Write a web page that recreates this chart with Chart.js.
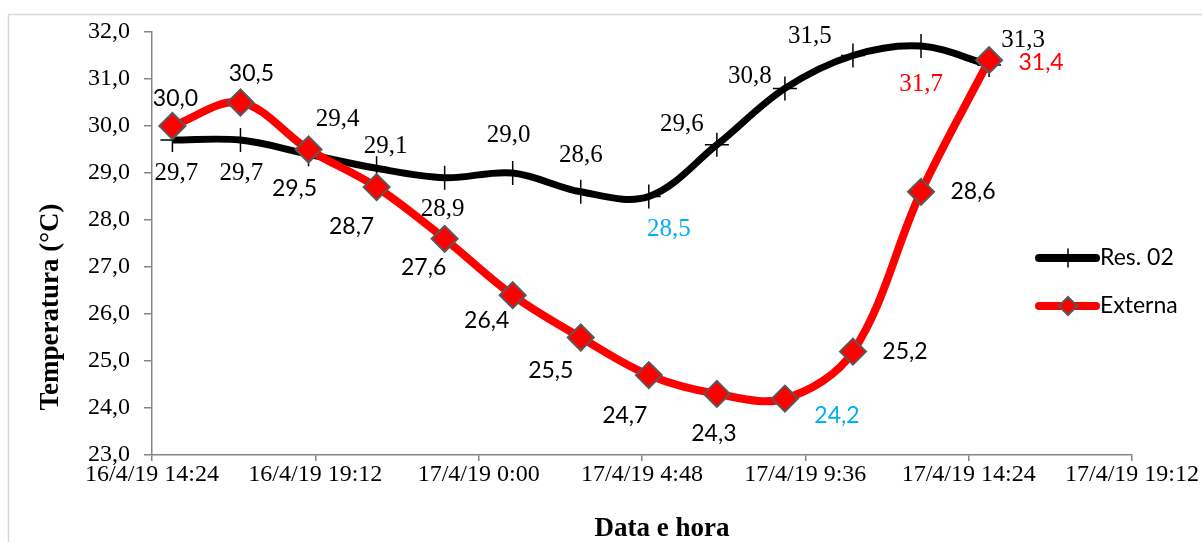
<!DOCTYPE html>
<html lang="pt-BR">
<head>
<meta charset="utf-8">
<title>Temperatura - Res. 02 x Externa</title>
<script src="https://cdn.jsdelivr.net/npm/chart.js@4.4.1/dist/chart.umd.min.js"></script>
<style>
  html, body { margin: 0; padding: 0; background: #fff; }
  #grafico { display: block; }
</style>
</head>
<body>
<canvas id="grafico" width="1202" height="542"></canvas>
<script>
// horas contadas a partir de 16/4/19 00:00 (uma leitura a cada 2 h)
const horas = [15, 17, 19, 21, 23, 25, 27, 29, 31, 33, 35, 37, 39];
const res02 = [29.7, 29.7, 29.4, 29.1, 28.9, 29.0, 28.6, 28.5, 29.6, 30.8, 31.5, 31.7, 31.3];
const externa = [30.0, 30.5, 29.5, 28.7, 27.6, 26.4, 25.5, 24.7, 24.3, 24.2, 25.2, 28.6, 31.4];
const xTickLabels = ['16/4/19 14:24', '16/4/19 19:12', '17/4/19 0:00', '17/4/19 4:48',
                     '17/4/19 9:36', '17/4/19 14:24', '17/4/19 19:12'];
const xMin = 14.4, xStep = 4.8;
const yMin = 23, yMax = 32, yStep = 1;

// posicao dos rotulos em relacao ao ponto (dx, dy)
const resDesloc = [[4,33],[1,33],[29,-35],[9,-22],[-2,32],[-4,-38],[0,-36],[20,33],[-35,-20],[-35,-12],[-43,-19],[0,38],[34,-24]];
const extDesloc = [[3,-27],[11,-29],[-14,39],[-25,39],[-21,29],[-26,25],[-30,33],[-24,40],[-3,40],[52,17],[52,0],[52,0],[52,2]];
const azul = '#00B0F0', vermelho = '#FF0000';
const resCores = res02.map((v, i) => i === 7 ? azul : (i === 11 ? vermelho : '#000'));
const extCores = externa.map((v, i) => i === 9 ? azul : (i === 12 ? vermelho : '#000'));

const serif = "'Liberation Serif', 'Times New Roman', serif";
const sans = "Lato, 'Noto Sans', sans-serif";
const fmt = v => v.toFixed(1).replace('.', ',');

const rotulos = {
    id: 'rotulos',
    afterDatasetsDraw(chart) {
        const ctx = chart.ctx;
        chart.data.datasets.forEach((ds, di) => {
            const meta = chart.getDatasetMeta(di);
            const r = ds.rotulo;
            ctx.save();
            ctx.font = r.font;
            ctx.textAlign = 'center';
            ctx.textBaseline = 'middle';
            meta.data.forEach((pt, i) => {
                ctx.fillStyle = r.cores[i];
                ctx.fillText(fmt(ds.data[i].y), pt.x + r.desloc[i][0], pt.y + r.desloc[i][1]);
            });
            ctx.restore();
        });
    }
};

// moldura, titulos dos eixos e legenda
const extras = {
    id: 'extras',
    beforeDraw(chart) {
        const ctx = chart.ctx;
        ctx.save();
        ctx.strokeStyle = '#d9d9d9';
        ctx.lineWidth = 1.5;
        ctx.strokeRect(8.5, 14.5, 1400, 800);
        ctx.restore();
    },
    afterDraw(chart) {
        const ctx = chart.ctx;
        ctx.save();
        ctx.fillStyle = '#000';
        ctx.font = 'bold 27px ' + serif;
        ctx.textAlign = 'center';
        ctx.textBaseline = 'middle';
        ctx.fillText('Data e hora', 662, 529);
        ctx.translate(51, 307);
        ctx.rotate(-Math.PI / 2);
        ctx.fillText('Temperatura (°C)', 0, 0);
        ctx.restore();

        const itens = [chart.data.datasets[1], chart.data.datasets[0]];
        itens.forEach((ds, k) => {
            const y = 258 + k * 48;
            ctx.save();
            ctx.strokeStyle = ds.borderColor;
            ctx.lineWidth = 8;
            ctx.lineCap = 'round';
            ctx.beginPath();
            ctx.moveTo(1039, y);
            ctx.lineTo(1096, y);
            ctx.stroke();
            ctx.fillStyle = ds.pointBackgroundColor;
            ctx.strokeStyle = ds.pointBorderColor;
            ctx.lineWidth = ds.pointBorderWidth;
            Chart.helpers.drawPoint(ctx, {
                pointStyle: ds.pointStyle,
                radius: 9,
                rotation: 0,
                borderWidth: ds.pointBorderWidth
            }, 1068, y);
            ctx.fillStyle = '#000';
            ctx.font = '23px ' + sans;
            ctx.textAlign = 'left';
            ctx.textBaseline = 'middle';
            ctx.fillText(ds.label, 1100, y);
            ctx.restore();
        });
    }
};

const ctx = document.getElementById('grafico').getContext('2d');
new Chart(ctx, {
    type: 'line',
    data: {
        datasets: [
            {
                label: 'Externa',
                data: horas.map((h, i) => ({ x: h, y: externa[i] })),
                borderColor: vermelho,
                borderWidth: 8,
                tension: 0.35,
                pointStyle: 'rectRot',
                pointRadius: 13,
                pointBackgroundColor: vermelho,
                pointBorderColor: '#595959',
                pointBorderWidth: 2,
                order: 0,
                rotulo: { font: '23px ' + sans, desloc: extDesloc, cores: extCores }
            },
            {
                label: 'Res. 02',
                data: horas.map((h, i) => ({ x: h, y: res02[i] })),
                borderColor: '#000',
                borderWidth: 7,
                tension: 0.35,
                pointStyle: 'cross',
                pointRadius: 12,
                pointBackgroundColor: '#000',
                pointBorderColor: '#000',
                pointBorderWidth: 1.5,
                order: 1,
                rotulo: { font: '25px ' + serif, desloc: resDesloc, cores: resCores }
            }
        ]
    },
    options: {
        responsive: false,
        animation: false,
        layout: { padding: { left: 0, top: 32, right: 70, bottom: 0 } },
        plugins: {
            legend: { display: false },
            tooltip: { enabled: false }
        },
        scales: {
            x: {
                type: 'linear',
                min: xMin,
                max: xMin + xStep * (xTickLabels.length - 1),
                afterBuildTicks: scale => {
                    scale.ticks = xTickLabels.map((t, i) => ({ value: xMin + i * xStep }));
                },
                afterFit: scale => { scale.height = 87; },
                ticks: {
                    autoSkip: false,
                    maxRotation: 0,
                    padding: -1,
                    color: '#000',
                    font: { family: serif, size: 24 },
                    callback: (v, i) => xTickLabels[i]
                },
                grid: { drawOnChartArea: false, tickLength: 6, color: '#868686', lineWidth: 1.5 },
                border: { color: '#868686', width: 1.5 }
            },
            y: {
                min: yMin,
                max: yMax,
                afterFit: scale => { scale.width = 152; },
                ticks: {
                    stepSize: yStep,
                    padding: 14,
                    color: '#000',
                    font: { family: serif, size: 24 },
                    callback: v => fmt(v)
                },
                grid: { drawOnChartArea: false, tickLength: 8, color: '#868686', lineWidth: 1.5 },
                border: { color: '#868686', width: 1.5 }
            }
        }
    },
    plugins: [rotulos, extras]
});
</script>
</body>
</html>
